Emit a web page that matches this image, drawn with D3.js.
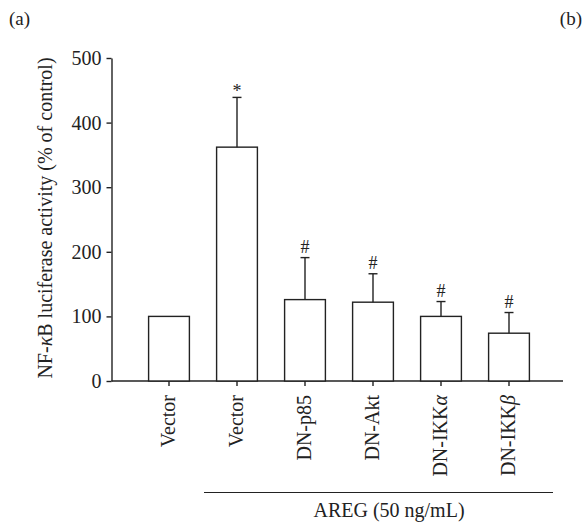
<!DOCTYPE html>
<html>
<head>
<meta charset="utf-8">
<script src="https://cdn.jsdelivr.net/npm/d3@7"></script>
<style>
  body { margin: 0; background: #fff; }
  text { font-family: "Liberation Serif", serif; fill: #222; }
</style>
</head>
<body>
<svg width="583" height="525"></svg>
<script>
// values
const groups = ['Vector', 'Vector', 'DN-p85', 'DN-Akt', 'DN-IKK', 'DN-IKK'];
const greek = ['', '', '', '', 'α', 'β'];
const means = [100, 362, 126, 122, 100, 74];
const upperErr = [0, 77, 65, 44, 23, 32];
const marks = ['', '*', '#', '#', '#', '#'];
const yTicks = [0, 100, 200, 300, 400, 500];

const svg = d3.select('svg');

let x = d3.scaleBand()
    .domain(d3.range(groups.length))
    .range([135, 543])
    .paddingInner(0.4)
    .paddingOuter(0.2);

let y = d3.scaleLinear()
    .domain([0, 500])
    .range([381, 58]);

// y axis
let yAxis = svg.append('g')
    .attr('transform', 'translate(111.5,0)')
    .call(d3.axisLeft(y).tickValues(yTicks).tickSize(5).tickSizeOuter(0).tickPadding(5));
yAxis.select('.domain').attr('stroke', '#222').attr('stroke-width', 1.4);
yAxis.selectAll('.tick line').attr('stroke', '#222').attr('stroke-width', 1.4);
yAxis.selectAll('.tick text')
    .style('font-family', '"Liberation Serif", serif')
    .style('font-size', '20px')
    .attr('fill', '#222');

// x axis baseline, wider than the bars
svg.append('line')
    .attr('x1', 111.5).attr('x2', 563)
    .attr('y1', y(0)).attr('y2', y(0))
    .attr('stroke', '#222').attr('stroke-width', 1.4);

svg.selectAll('.xtick')
    .data(groups)
    .enter().append('line')
    .attr('class', 'xtick')
    .attr('x1', (d, i) => x(i) + x.bandwidth() / 2)
    .attr('x2', (d, i) => x(i) + x.bandwidth() / 2)
    .attr('y1', y(0)).attr('y2', y(0) + 5)
    .attr('stroke', '#222').attr('stroke-width', 1.4);

// bars
svg.selectAll('.bar')
    .data(means)
    .enter().append('rect')
    .attr('class', 'bar')
    .attr('x', (d, i) => x(i))
    .attr('width', x.bandwidth())
    .attr('y', d => y(d))
    .attr('height', d => y(0) - y(d))
    .attr('fill', '#fff')
    .attr('stroke', '#222')
    .attr('stroke-width', 1.4);

// upper error bars
let errs = svg.selectAll('.err')
    .data(means.map((m, i) => ({ i, m, e: upperErr[i] })).filter(d => d.e > 0))
    .enter().append('g')
    .attr('class', 'err');

errs.append('line')
    .attr('x1', d => x(d.i) + x.bandwidth() / 2)
    .attr('x2', d => x(d.i) + x.bandwidth() / 2)
    .attr('y1', d => y(d.m))
    .attr('y2', d => y(d.m + d.e))
    .attr('stroke', '#222').attr('stroke-width', 1.4);

errs.append('line')
    .attr('x1', d => x(d.i) + x.bandwidth() / 2 - 4.5)
    .attr('x2', d => x(d.i) + x.bandwidth() / 2 + 4.5)
    .attr('y1', d => y(d.m + d.e))
    .attr('y2', d => y(d.m + d.e))
    .attr('stroke', '#222').attr('stroke-width', 1.4);

// significance marks
svg.selectAll('.mark')
    .data(marks)
    .enter().append('text')
    .attr('class', 'mark')
    .attr('x', (d, i) => x(i) + x.bandwidth() / 2)
    .attr('y', (d, i) => y(means[i] + upperErr[i]) - (d === '*' ? 0 : 5))
    .attr('text-anchor', 'middle')
    .style('font-size', '18px')
    .text(d => d);

// rotated category labels
let labels = svg.selectAll('.xlab')
    .data(groups)
    .enter().append('text')
    .attr('class', 'xlab')
    .attr('transform', (d, i) => `translate(${x(i) + x.bandwidth() / 2 + 6},${y(0) + 14}) rotate(-90)`)
    .attr('text-anchor', 'end')
    .style('font-size', '20px')
    .text(d => d);
labels.append('tspan')
    .style('font-style', 'italic')
    .text((d, i) => greek[i]);

// AREG bracket
svg.append('line')
    .attr('x1', 204).attr('x2', 553)
    .attr('y1', 492.5).attr('y2', 492.5)
    .attr('stroke', '#222').attr('stroke-width', 1.2);

svg.append('text')
    .attr('x', 389).attr('y', 517)
    .attr('text-anchor', 'middle')
    .style('font-size', '20px')
    .text('AREG (50 ng/mL)');

// y axis title
let ytitle = svg.append('text')
    .attr('transform', 'translate(52,218) rotate(-90)')
    .attr('text-anchor', 'middle')
    .style('font-size', '20px');
ytitle.append('tspan').text('NF-');
ytitle.append('tspan').style('font-style', 'italic').text('κ');
ytitle.append('tspan').text('B luciferase activity (% of control)');

// panel letters
svg.append('text').attr('x', 9).attr('y', 25).style('font-size', '19px').text('(a)');
svg.append('text').attr('x', 582).attr('y', 25).attr('text-anchor', 'end').style('font-size', '19px').text('(b)');
</script>
</body>
</html>
